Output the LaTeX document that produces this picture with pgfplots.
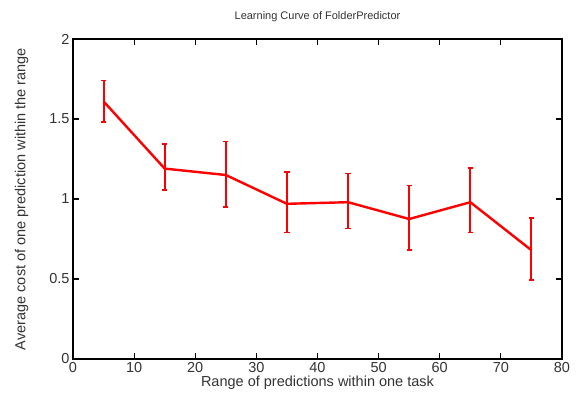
\documentclass[border=0pt]{standalone}
\usepackage{fontspec}
\setmainfont{Liberation Sans}
\usepackage{pgfplots}
\pgfplotsset{compat=1.18}
\begin{document}
\begin{tikzpicture}
\begin{axis}[
  at={(0,0)}, anchor=south west,
  scale only axis,
  width=489pt, height=320pt,
  xmin=0, xmax=80, ymin=0, ymax=2,
  xtick={0,10,...,80},
  ytick={0,0.5,1,1.5,2},
  yticklabels={0,0.5,1,1.5,2},
  tick align=inside,
  major tick length=6pt,
  tick style={black, line width=1.2pt},
  axis line style={line width=1.6pt},
  /pgf/number format/assume math mode=true,
  tick label style={font=\fontsize{14.5pt}{16pt}\selectfont, color=black!80},
  label style={font=\fontsize{14.5pt}{16pt}\selectfont, color=black!80},
  xlabel={Range of predictions within one task},
  ylabel={Average cost of one prediction within the range},
  xlabel style={at={(axis description cs:0.5,-0.075)}, anchor=center},
  ylabel style={at={(axis description cs:-0.105,0.5)}, anchor=center},
  title={Learning Curve of FolderPredictor},
  title style={font=\fontsize{11pt}{13pt}\selectfont, color=black!80, at={(axis description cs:0.5,1)}, anchor=center, yshift=16pt},
]
\addplot[red, line width=2.4pt, mark=none,
  error bars/.cd, y dir=both, y explicit,
  error bar style={line width=2pt, red},
  error mark options={rotate=90, mark size=2.6pt, line width=1.6pt, red}]
  coordinates {
  (5,1.61) +- (0,0.13)
  (15,1.19) -= (0,0.135) += (0,0.155)
  (25,1.15) += (0,0.21) -= (0,0.20)
  (35,0.97) += (0,0.20) -= (0,0.18)
  (45,0.98) += (0,0.18) -= (0,0.165)
  (55,0.875) += (0,0.21) -= (0,0.195)
  (65,0.98) += (0,0.215) -= (0,0.19)
  (75,0.68) += (0,0.20) -= (0,0.185)
  };
\end{axis}
\pgfresetboundingbox
\path (-73pt,-41pt) rectangle (504pt,359pt);
\end{tikzpicture}
\end{document}
